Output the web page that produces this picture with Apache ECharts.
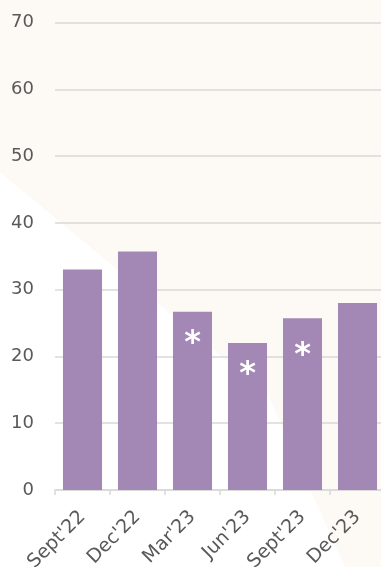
<!DOCTYPE html>
<html>
<head>
<meta charset="utf-8">
<script src="https://cdn.jsdelivr.net/npm/echarts@6/dist/echarts.min.js"></script>
<style>
  html, body { margin: 0; padding: 0; background: #fdfaf5; }
  #chart { width: 381px; height: 567px; }
</style>
</head>
<body>
<div id="chart"></div>
<script>
// Quarterly values
var categories = ["Sept'22", "Dec'22", "Mar'23", "Jun'23", "Sept'23", "Dec'23"];
var values = [33, 35.7, 26.7, 22, 25.7, 28];
// Quarters flagged with an asterisk
var flags = ['', '', '*', '*', '*', ''];
var yTicks = [0, 10, 20, 30, 40, 50, 60, 70];

var textColor = '#595959';
var gridColor = '#d9d9d9';
var barColor = '#a387b5';

// The Sept'23 asterisk sits a little lower inside its bar
var flagDistance = [16, 16, 16, 16, 21, 16];

var chart = echarts.init(document.getElementById('chart'), null, { renderer: 'canvas' });

var seriesData = values.map(function (v, i) {
  return {
    value: v,
    label: {
      show: flags[i] !== '',
      formatter: flags[i],
      distance: flagDistance[i]
    }
  };
});

chart.setOption({
  backgroundColor: '#fdfaf5',
  animation: false,
  textStyle: { fontFamily: 'DejaVu Sans' },
  graphic: [{
    type: 'polygon',
    z: -100,
    silent: true,
    shape: { points: [[0, 172], [268, 395], [345, 567], [0, 567]] },
    style: { fill: '#ffffff' }
  }],
  grid: {
    left: 55,
    right: -4,
    top: 22.5,
    bottom: 77,
    containLabel: false,
    outerBoundsMode: 'none'
  },
  xAxis: {
    type: 'category',
    data: categories,
    boundaryGap: true,
    axisLine: { show: true, lineStyle: { color: gridColor, width: 1.5 } },
    axisTick: { show: true, length: 5, lineStyle: { color: gridColor, width: 1.5 } },
    axisLabel: {
      rotate: 45,
      interval: 0,
      margin: 24,
      padding: [22, 0, 0, 0],
      fontSize: 19,
      color: textColor,
      fontFamily: 'DejaVu Sans'
    },
    splitLine: { show: false }
  },
  yAxis: {
    type: 'value',
    min: yTicks[0],
    max: yTicks[yTicks.length - 1],
    interval: yTicks[1] - yTicks[0],
    axisLine: { show: false },
    axisTick: { show: false },
    axisLabel: {
      margin: 21,
      fontSize: 18,
      color: textColor,
      fontFamily: 'DejaVu Sans'
    },
    splitLine: { show: true, lineStyle: { color: gridColor, width: 1.5 } }
  },
  series: [{
    type: 'bar',
    data: seriesData,
    barCategoryGap: '29%',
    itemStyle: { color: barColor },
    label: {
      position: 'insideTop',
      color: '#ffffff',
      fontSize: 32,
      fontWeight: 'bold',
      fontFamily: 'DejaVu Sans'
    }
  }]
});
</script>
</body>
</html>
